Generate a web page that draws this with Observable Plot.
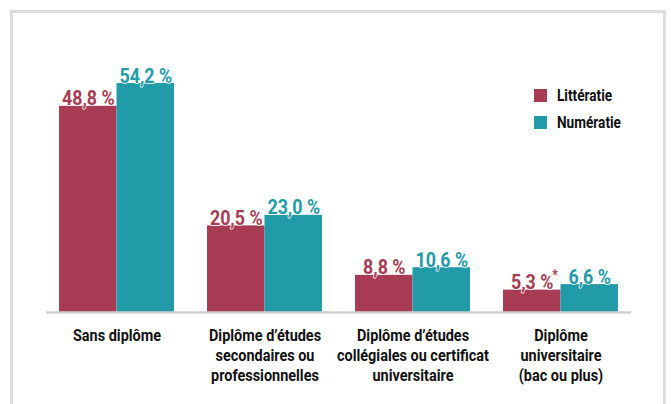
<!DOCTYPE html>
<html>
<head>
<meta charset="utf-8">
<script src="https://cdn.jsdelivr.net/npm/d3@7"></script>
<script src="https://cdn.jsdelivr.net/npm/@observablehq/plot@0.6"></script>
<style>
  html, body { margin: 0; padding: 0; background: #fff; overflow: hidden; }
  #wrap { position: relative; width: 671px; height: 404px; overflow: hidden; }
  #frame { position: absolute; left: 10px; top: 10px; width: 656px; height: 420px;
           box-sizing: border-box; border: 3px solid #dcdcdc; pointer-events: none; }
  #legend { position: absolute; left: 534px; top: 82px;
            font-family: Roboto, "DejaVu Sans", sans-serif;
            font-weight: bold; font-size: 16px; color: #111; }
  .row { display: flex; align-items: center; height: 27px; }
  .sw { width: 13px; height: 13px; margin-right: 10px; flex: none; }
  .row span { display: inline-block; transform: scaleX(0.85); transform-origin: left center; }
  svg { font-family: Roboto, "DejaVu Sans", sans-serif; font-weight: bold; }
</style>
</head>
<body>
<div id="wrap">
  <div id="chart"></div>
  <div id="frame"></div>
  <div id="legend"></div>
</div>
<script>
const categories = [
  "Sans diplôme",
  "Diplôme d’études\nsecondaires ou\nprofessionnelles",
  "Diplôme d’études\ncollégiales ou certificat\nuniversitaire",
  "Diplôme\nuniversitaire\n(bac ou plus)"
];
const series = ["Littératie", "Numératie"];
const litteratie = [48.8, 20.5, 8.8, 5.3];
const numeratie = [54.2, 23.0, 10.6, 6.6];
const litteratieNotes = ["", "", "", "*"];
const colors = ["#A83C54", "#219BA8"];

const lit = categories.map((c, i) => ({cat: c, series: series[0], value: litteratie[i], note: litteratieNotes[i]}));
const num = categories.map((c, i) => ({cat: c, series: series[1], value: numeratie[i], note: ""}));
const fmt = v => d3.format(".1f")(v).replace(".", ",") + " %";
const condense = 0.85;

const base = {
  width: 671,
  height: 404,
  marginLeft: 46,
  marginRight: 40,
  marginTop: 83,
  marginBottom: 92,
  x: {domain: categories, paddingInner: 0.223, paddingOuter: 0.088, round: false},
  y: {domain: [0, d3.max([...litteratie, ...numeratie])], axis: null}
};

function build(bw) {
  const half = bw / 2;
  return Plot.plot({
    ...base,
    marks: [
      Plot.barY(lit, {x: "cat", y: "value", fill: colors[0], insetRight: half}),
      Plot.barY(num, {x: "cat", y: "value", fill: colors[1], insetLeft: half}),
      Plot.ruleY([0], {stroke: "#cfcfcf", strokeWidth: 2.5}),
      Plot.text(lit, {x: "cat", y: "value", text: d => fmt(d.value), dx: -half / 2, dy: -1,
        fill: colors[0], stroke: "white", strokeWidth: 1.5, fontSize: 21, lineAnchor: "bottom"}),
      Plot.text(lit.filter(d => d.note), {x: "cat", y: "value", text: "note", dx: -half / 2 + 20, dy: -10,
        fill: colors[0], fontSize: 14, textAnchor: "start", lineAnchor: "bottom"}),
      Plot.text(num, {x: "cat", y: "value", text: d => fmt(d.value), dx: half / 2, dy: -1,
        fill: colors[1], stroke: "white", strokeWidth: 1.5, fontSize: 21, lineAnchor: "bottom"}),
      Plot.axisX({tickSize: 0, tickPadding: 14, fontSize: 17, lineHeight: 1.18, color: "#111", label: null})
    ]
  });
}

const probe = build(0);
const bw = probe.scale("x").bandwidth;
const chart = build(bw);
chart.querySelectorAll("text").forEach(t => {
  const tr = t.getAttribute("transform") || "";
  t.setAttribute("transform", tr + ` scale(${condense},1)`);
});
document.getElementById("chart").appendChild(chart);

const legend = document.getElementById("legend");
series.forEach((s, i) => {
  const row = document.createElement("div");
  row.className = "row";
  const sw = document.createElement("div");
  sw.className = "sw";
  sw.style.background = colors[i];
  const t = document.createElement("span");
  t.textContent = s;
  row.appendChild(sw);
  row.appendChild(t);
  legend.appendChild(row);
});
</script>
</body>
</html>
